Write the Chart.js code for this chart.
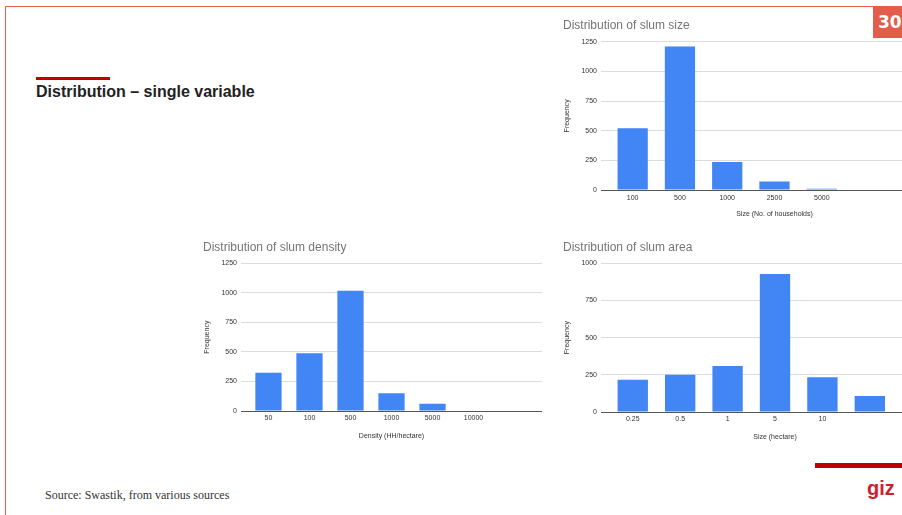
<!DOCTYPE html>
<html>
<head>
<meta charset="utf-8">
<script src="https://cdn.jsdelivr.net/npm/chart.js@4/dist/chart.umd.min.js"></script>
<style>
  html, body { margin: 0; padding: 0; width: 902px; height: 515px; overflow: hidden; background: #fff; }
  .frame { position: absolute; left: 5px; top: 6px; width: 910px; height: 520px;
           border-top: 1px solid #e5604d; border-left: 1px solid #e5604d; }
  .pageno { position: absolute; left: 873px; top: 7px; width: 40px; height: 31px; background: #e35d4b;
            color: #fff; font: bold 17px "DejaVu Sans", sans-serif; line-height: 31px; padding-left: 5px; }
  .accent { position: absolute; background: #c00000; }
  .heading { position: absolute; left: 36px; top: 83px; font: bold 16px "Liberation Sans", Arial, sans-serif; color: #222; }
  .source { position: absolute; left: 45px; top: 488px; font: 12px "Liberation Serif", serif; color: #333; }
  .logo { position: absolute; left: 867px; top: 477px; font: bold 20px "Liberation Sans", Arial, sans-serif; color: #d0202c; }
  canvas { position: absolute; }
</style>
</head>
<body>
<div class="frame"></div>
<div class="pageno">30</div>
<div class="accent" style="left:36px;top:77px;width:74px;height:3px;"></div>
<div class="heading">Distribution – single variable</div>
<div class="accent" style="left:815px;top:463px;width:90px;height:5px;"></div>
<div class="logo">giz</div>
<div class="source">Source: Swastik, from various sources</div>

<canvas id="sizeChart" width="400" height="215" style="left:555px;top:10px;"></canvas>
<canvas id="densityChart" width="360" height="210" style="left:195px;top:235px;"></canvas>
<canvas id="areaChart" width="400" height="210" style="left:555px;top:235px;"></canvas>

<script>
// Slum size (number of households)
const sizeLabels = ['100', '500', '1000', '2500', '5000'];
const sizeFreq = [520, 1210, 235, 72, 10];

// Slum density (HH/hectare)
const densityLabels = ['50', '100', '500', '1000', '5000', '10000'];
const densityFreq = [324, 488, 1018, 150, 62, 0];

// Slum area (hectare); last bin has no label
const areaLabels = ['0.25', '0.5', '1', '5', '10', ''];
const areaFreq = [217, 251, 309, 928, 233, 108];

const BAR = '#4285f4';
const SANS = '"Liberation Sans", Arial, sans-serif';

function histogram(id, cfg) {
  const points = cfg.values.map((v, i) => ({ x: i, y: v }));
  return new Chart(document.getElementById(id), {
    type: 'bar',
    data: { datasets: [{ data: points, backgroundColor: BAR, borderWidth: 0,
                         categoryPercentage: 1, barPercentage: 0.64 }] },
    options: {
      responsive: false,
      animation: false,
      layout: { padding: { left: 8, right: cfg.padRight, top: 0, bottom: 0 } },
      plugins: {
        legend: { display: false },
        tooltip: { enabled: false },
        title: {
          display: true, text: cfg.title, align: 'start', color: '#757575',
          font: { family: SANS, size: 12, weight: 'normal' },
          padding: { top: cfg.titleTop, bottom: cfg.titleBottom }
        }
      },
      scales: {
        x: {
          type: 'linear', min: -0.67, max: 6.67, offset: false,
          afterBuildTicks: s => { s.ticks = cfg.labels.map((_, i) => ({ value: i })); },
          afterFit: s => { s.height = cfg.xHeight; },
          grid: { display: false, drawTicks: false },
          border: { display: false },
          ticks: { autoSkip: false, maxRotation: 0, padding: cfg.xTickPad, color: '#333',
                   font: { family: SANS, size: 7 },
                   callback: v => cfg.labels[v] },
          title: { display: true, text: cfg.xTitle, color: '#333',
                   font: { family: SANS, size: 7 }, padding: { top: 0, bottom: cfg.xTitlePad } }
        },
        y: {
          min: 0, max: cfg.yMax,
          afterFit: s => { s.width = 38; },
          border: { display: false },
          grid: { drawTicks: false, lineWidth: 1,
                  color: c => c.tick && c.tick.value === 0 ? '#555' : '#dcdcdc' },
          ticks: { stepSize: 250, padding: 4, color: '#333', font: { family: SANS, size: 7 },
                   callback: v => String(v) },
          title: { display: true, text: 'Frequency', color: '#333',
                   font: { family: SANS, size: 7 }, padding: { top: 0, bottom: 0 } }
        }
      }
    }
  });
}

histogram('sizeChart', {
  title: 'Distribution of slum size', labels: sizeLabels, values: sizeFreq,
  xTitle: 'Size (No. of households)', yMax: 1250,
  padRight: 7, titleTop: 8.8, titleBottom: 8.5, xHeight: 35, xTickPad: 3.5, xTitlePad: 6.8
});

histogram('densityChart', {
  title: 'Distribution of slum density', labels: densityLabels, values: densityFreq,
  xTitle: 'Density (HH/hectare)', yMax: 1250,
  padRight: 13, titleTop: 5.8, titleBottom: 8.1, xHeight: 34, xTickPad: 3, xTitlePad: 4.5
});

histogram('areaChart', {
  title: 'Distribution of slum area', labels: areaLabels, values: areaFreq,
  xTitle: 'Size (hectare)', yMax: 1000,
  padRight: 6, titleTop: 5.8, titleBottom: 8.1, xHeight: 33, xTickPad: 2.5, xTitlePad: 4.1
});
</script>
</body>
</html>
